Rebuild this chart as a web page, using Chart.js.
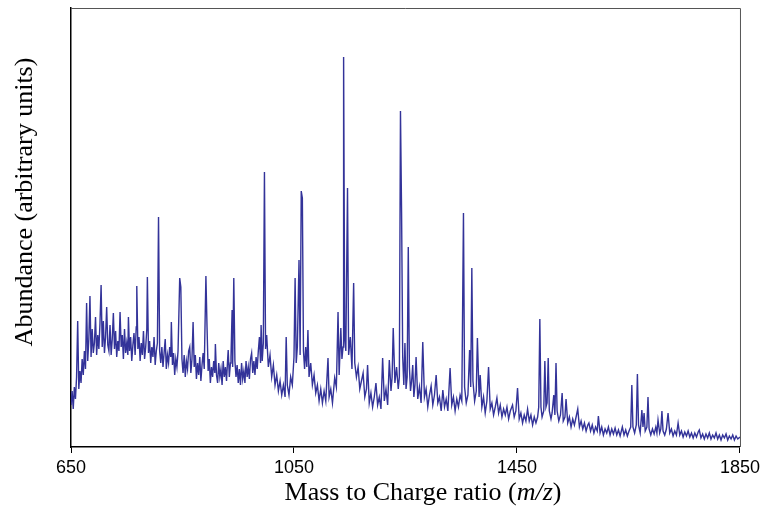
<!DOCTYPE html>
<html><head><meta charset="utf-8">
<script src="https://cdn.jsdelivr.net/npm/chart.js@4"></script>
<style>html,body{margin:0;padding:0;background:#fff}canvas{display:block}</style>
</head><body>
<canvas id="c" width="764" height="518"></canvas>
<script>
// m/z values (x) and abundance (arbitrary units)
const mz = [650,652,654,656,658,660,662,664,666,668,670,672,674,676,678,680,682,684,686,688,690,692,694,696,698,700,702,704,706,708,710,712,714,716,718,720,722,724,726,728,730,732,734,736,738,740,742,744,746,748,750,752,753,755,757,759,761,763,765,767,768,770,772,774,776,778,780,782,784,786,787,789,791,793,795,797,799,801,803,805,807,809,811,813,815,817,819,821,823,825,827,829,830,832,834,836,838,840,842,845,847,849,851,853,855,857,859,861,863,865,867,869,871,873,875,877,879,881,883,885,887,889,892,894,896,898,900,902,904,906,908,909,911,913,915,917,919,921,923,925,927,929,931,932,934,936,937,939,940,942,944,946,948,950,952,954,956,958,960,962,964,966,968,970,972,974,976,978,980,982,984,986,988,990,991,993,995,997,999,1001,1004,1007,1010,1013,1016,1019,1022,1025,1028,1031,1034,1036,1038,1041,1044,1047,1050,1052,1054,1056,1059,1061,1063,1065,1067,1069,1071,1073,1075,1077,1080,1083,1086,1089,1092,1095,1098,1101,1104,1107,1111,1113,1116,1119,1123,1126,1129,1131,1134,1136,1138,1139,1141,1143,1146,1148,1151,1154,1157,1159,1162,1165,1168,1171,1174,1177,1180,1182,1185,1188,1191,1194,1197,1200,1203,1206,1209,1212,1215,1218,1221,1224,1226,1228,1231,1234,1237,1239,1241,1243,1245,1247,1249,1251,1253,1255,1257,1259,1261,1263,1265,1267,1269,1272,1275,1278,1281,1284,1287,1290,1293,1296,1299,1302,1305,1308,1311,1314,1317,1320,1323,1326,1330,1333,1336,1339,1342,1345,1348,1351,1354,1356,1359,1362,1365,1367,1369,1371,1374,1377,1379,1382,1384,1387,1390,1393,1396,1399,1402,1405,1408,1411,1414,1417,1420,1423,1426,1429,1432,1435,1438,1442,1445,1448,1451,1454,1457,1460,1463,1466,1469,1472,1475,1478,1481,1484,1487,1489,1491,1493,1495,1498,1500,1502,1504,1506,1508,1511,1513,1516,1518,1520,1522,1525,1528,1531,1533,1536,1538,1541,1544,1547,1550,1553,1556,1559,1562,1565,1568,1571,1574,1577,1579,1582,1585,1588,1591,1594,1596,1599,1602,1605,1608,1611,1614,1617,1620,1623,1626,1629,1632,1635,1639,1642,1645,1648,1651,1654,1656,1658,1661,1664,1666,1668,1671,1674,1676,1678,1680,1683,1685,1687,1690,1693,1696,1699,1701,1703,1706,1708,1710,1712,1715,1718,1721,1724,1727,1730,1733,1736,1739,1742,1745,1748,1751,1754,1757,1760,1763,1766,1769,1772,1775,1777,1780,1783,1786,1789,1792,1795,1798,1801,1804,1807,1810,1813,1816,1819,1822,1825,1828,1831,1834,1837,1840,1843,1846,1850];
const abundance = [42,56,38,60,48,70,126,58,76,64,88,72,96,78,144,86,108,151,90,118,94,104,130,92,112,98,124,162,100,126,94,110,140,102,96,122,92,108,134,98,116,90,106,96,135,100,112,88,118,94,104,92,130,96,110,86,102,114,92,120,161,98,110,86,104,92,116,88,100,118,170,94,106,84,100,90,110,82,96,104,230,96,84,100,80,94,108,78,92,84,100,90,125,82,94,72,88,80,96,169,160,88,74,92,70,86,78,96,100,74,88,125,80,92,68,84,72,90,66,82,94,78,171,120,76,88,64,80,70,86,74,103,72,64,84,70,78,62,86,70,80,66,88,97,70,84,90,137,80,169,86,70,82,64,78,62,84,68,76,64,86,70,80,68,88,94,74,86,72,90,78,96,110,84,122,86,104,275,98,112,80,92,70,82,62,72,56,66,52,62,50,110,62,52,70,62,90,169,84,100,187,92,256,249,96,78,100,80,117,70,84,62,72,54,62,46,58,44,56,46,89,50,58,44,69,60,135,72,119,88,100,390,110,96,259,92,110,78,164,84,70,80,58,66,74,50,58,82,44,54,40,50,64,42,50,38,89,46,58,42,87,56,70,119,64,80,58,70,336,234,90,62,104,58,70,200,80,56,66,82,50,62,90,48,60,44,105,50,58,40,52,61,42,52,72,44,50,36,57,40,48,36,79,42,50,36,48,40,52,46,234,60,44,52,97,60,179,66,46,56,109,50,72,40,50,34,46,80,38,44,32,40,49,34,42,30,38,32,40,28,36,42,30,36,59,28,34,24,32,26,38,26,32,22,30,24,30,40,128,40,30,36,86,40,44,89,36,28,34,52,32,84,36,26,32,54,26,30,48,24,30,20,28,22,30,38,20,26,18,24,16,22,24,16,22,14,20,16,31,14,20,12,18,14,20,12,18,13,19,12,17,11,20,12,17,11,16,20,62,20,14,22,73,22,14,37,20,34,16,20,50,18,12,18,13,20,14,27,14,18,36,16,12,18,34,14,18,11,16,12,24,12,16,10,15,11,16,10,14,9,14,10,15,17,9,13,8,13,9,14,8,12,9,14,8,12,7,12,9,13,7,11,8,12,7,11,8,10];
const xTicks = [650, 1050, 1450, 1850];
const yTitle = 'Abundance (arbitrary units)';
const xTitleParts = [['Mass to Charge ratio (', false], ['m/z', true], [')', false]];

const points = mz.map((x, i) => ({x: x, y: abundance[i]}));

const framePlugin = {
  id: 'frame',
  afterDraw(chart) {
    const {ctx, chartArea: a} = chart;
    ctx.save();
    ctx.strokeStyle = '#555';
    ctx.lineWidth = 1;
    ctx.beginPath();
    ctx.moveTo(a.left, a.top + 0.5);
    ctx.lineTo(a.right + 0.5, a.top + 0.5);
    ctx.lineTo(a.right + 0.5, a.bottom);
    ctx.stroke();
    ctx.fillStyle = '#000';
    ctx.textBaseline = 'middle';
    ctx.textAlign = 'center';
    ctx.save();
    ctx.translate(25, 202);
    ctx.rotate(-Math.PI / 2);
    ctx.font = '26px "Liberation Serif"';
    ctx.fillText(yTitle, 0, 0);
    ctx.restore();
    const fonts = xTitleParts.map(p => (p[1] ? 'italic ' : '') + '26px "Liberation Serif"');
    let total = 0;
    const widths = xTitleParts.map((p, i) => { ctx.font = fonts[i]; const w = ctx.measureText(p[0]).width; total += w; return w; });
    let x = 423 - total / 2;
    ctx.textAlign = 'left';
    xTitleParts.forEach((p, i) => { ctx.font = fonts[i]; ctx.fillText(p[0], x, 493); x += widths[i]; });
    ctx.restore();
  }
};

new Chart(document.getElementById('c'), {
  type: 'line',
  data: { datasets: [{ data: points, borderColor: '#333399', borderWidth: 1.4, pointRadius: 0, tension: 0, fill: false }] },
  options: {
    responsive: false,
    animation: false,
    layout: { padding: { left: 0, right: 23, top: 8, bottom: 0 } },
    plugins: { legend: { display: false }, tooltip: { enabled: false } },
    scales: {
      x: {
        type: 'linear', min: 650, max: 1850,
        afterBuildTicks: s => { s.ticks = xTicks.map(v => ({ value: v })); },
        grid: { drawOnChartArea: false, drawTicks: true, tickLength: 6, color: '#000' },
        border: { display: true, color: '#000', width: 1.5 },
        ticks: { color: '#000', font: { family: 'Liberation Sans', size: 18 }, padding: 4, maxRotation: 0, autoSkip: false, callback: v => String(v) },
        afterFit: s => { s.height = 71; }
      },
      y: {
        min: 0, max: 439,
        ticks: { display: false },
        grid: { display: false },
        border: { display: true, color: '#000', width: 1.5 },
        afterFit: s => { s.width = 71; }
      }
    }
  },
  plugins: [framePlugin]
});
</script>
</body></html>
